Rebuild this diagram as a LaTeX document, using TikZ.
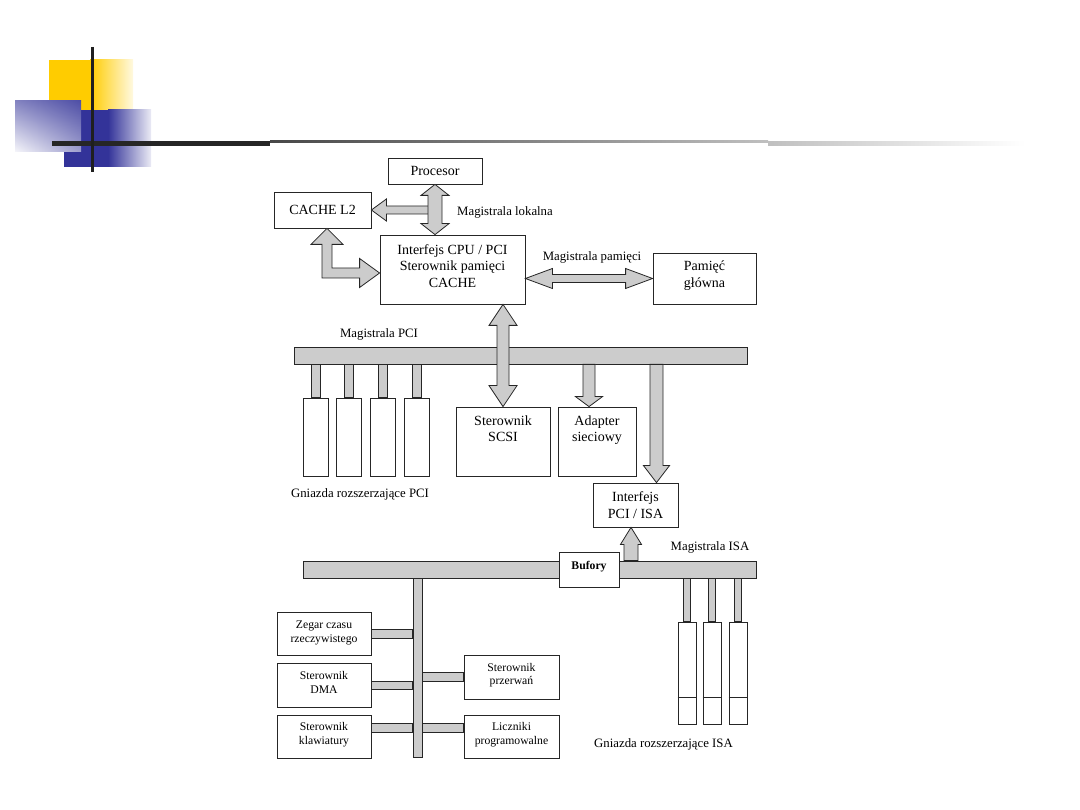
\documentclass[tikz,border=0pt]{standalone}
\usepackage{fontspec}
\setmainfont{Liberation Serif}
\usetikzlibrary{calc,shadings}
\definecolor{busgray}{gray}{0.8}
\definecolor{gold}{HTML}{FFCC00}
\definecolor{dblue}{HTML}{333399}
\definecolor{lblue}{HTML}{4F4FA6}
\tikzset{
  box/.style={draw=black!85, line width=0.8pt, fill=white, inner sep=1pt, align=center},
  bus/.style={draw=black!85, line width=0.8pt, fill=busgray, inner sep=0pt},
  fat/.style={draw=black!85, line width=0.8pt, fill=busgray, line join=miter},
  big/.style={font=\fontsize{14}{16.5}\selectfont},
  small/.style={font=\fontsize{11.7}{13.4}\selectfont},
  lab/.style={font=\fontsize{12.8}{15}\selectfont, inner sep=0pt},
}
\newcommand{\txtdepth}[1]{\rule[-#1pt]{0pt}{#1pt}}
% vertical double arrow: top tip, bottom tip, shaft half, head half, head length
\newcommand{\fatVV}[5]{\draw[fat] let \p1=(#1), \p2=(#2) in
 (\x1,\y1) -- (\x1+#4pt,\y1-#5pt) -- (\x1+#3pt,\y1-#5pt) -- (\x1+#3pt,\y2+#5pt) -- (\x1+#4pt,\y2+#5pt) -- (\x1,\y2) -- (\x1-#4pt,\y2+#5pt) -- (\x1-#3pt,\y2+#5pt) -- (\x1-#3pt,\y1-#5pt) -- (\x1-#4pt,\y1-#5pt) -- cycle;}
% vertical arrow down: start, tip
\newcommand{\fatVdown}[5]{\draw[fat] let \p1=(#1), \p2=(#2) in
 (\x1-#3pt,\y1) -- (\x1+#3pt,\y1) -- (\x1+#3pt,\y2+#5pt) -- (\x1+#4pt,\y2+#5pt) -- (\x1,\y2) -- (\x1-#4pt,\y2+#5pt) -- (\x1-#3pt,\y2+#5pt) -- cycle;}
% vertical arrow up: start (bottom), tip (top)
\newcommand{\fatVup}[5]{\draw[fat] let \p1=(#1), \p2=(#2) in
 (\x1-#3pt,\y1) -- (\x1-#3pt,\y2-#5pt) -- (\x1-#4pt,\y2-#5pt) -- (\x1,\y2) -- (\x1+#4pt,\y2-#5pt) -- (\x1+#3pt,\y2-#5pt) -- (\x1+#3pt,\y1) -- cycle;}
% horizontal double arrow: left tip, right tip
\newcommand{\fatHH}[5]{\draw[fat] let \p1=(#1), \p2=(#2) in
 (\x1,\y1) -- (\x1+#5pt,\y1+#4pt) -- (\x1+#5pt,\y1+#3pt) -- (\x2-#5pt,\y1+#3pt) -- (\x2-#5pt,\y1+#4pt) -- (\x2,\y1) -- (\x2-#5pt,\y1-#4pt) -- (\x2-#5pt,\y1-#3pt) -- (\x1+#5pt,\y1-#3pt) -- (\x1+#5pt,\y1-#4pt) -- cycle;}
% horizontal arrow to the left: start (right), tip (left)
\newcommand{\fatHleft}[5]{\draw[fat] let \p1=(#1), \p2=(#2) in
 (\x1,\y1+#3pt) -- (\x2+#5pt,\y1+#3pt) -- (\x2+#5pt,\y1+#4pt) -- (\x2,\y1) -- (\x2+#5pt,\y1-#4pt) -- (\x2+#5pt,\y1-#3pt) -- (\x1,\y1-#3pt) -- cycle;}
\begin{document}
\begin{tikzpicture}[x=1pt,y=-1pt]
\useasboundingbox (0,0) rectangle (1080,810);
% ---------- decoration ----------
\fill[gold] (49,60) rectangle (90,110);
\shade[left color=gold, right color=gold!12] (90,60) rectangle (133,110);
\fill[dblue] (64,110) rectangle (108,167);
\shade[left color=dblue, right color=dblue!10] (108,110) rectangle (151,167);
\shade[upper left=lblue!70, upper right=lblue, lower left=lblue!5, lower right=lblue!55] (15,101) rectangle (81,152);
\fill[black!85] (52,141) rectangle (270,146);
\shade[left color=black!72, right color=black!25] (270,141) rectangle (768,142.6);
\shade[left color=black!25, right color=white] (768,141.8) rectangle (1025,146);
\draw[line width=3.5pt, black!88] (92.5,47) -- (92.5,172);
% ---------- buses ----------
\node[bus, minimum width=453pt, minimum height=17pt] (pcibus) at (520.5,355.5) {};
\node[bus, minimum width=453pt, minimum height=17pt] (isabus) at (529.5,569.5) {};
\node[bus, minimum width=9pt, minimum height=179pt] (isav) at (417.5,667.5) {};
% ---------- boxes ----------
\node[box, big, minimum width=94pt, minimum height=26pt] (proc) at (435,171) {Procesor};
\node[box, big, minimum width=97pt, minimum height=36pt] (cache) at (322.5,210) {CACHE L2};
\node[box, big, minimum width=145pt, minimum height=69pt] (intf) at (452.5,269.5) {Interfejs CPU / PCI\\Sterownik pamięci\\CACHE\txtdepth{7}};
\node[box, big, minimum width=103pt, minimum height=51pt] (mem) at (704.5,278.5) {Pamięć\\główna\txtdepth{9}};
\node[box, minimum width=94pt, minimum height=69pt] (scsi) at (503,441.5) {};
\node[big, align=center] (scsit) at (503,428.5) {Sterownik\\SCSI};
\node[box, minimum width=78pt, minimum height=69pt] (adap) at (597,441.5) {};
\node[big, align=center] (adapt) at (597,430) {Adapter\\sieciowy};
\node[box, big, minimum width=85pt, minimum height=44pt] (pciisa) at (635.5,505) {Interfejs\\PCI / ISA};
\node[box, font=\bfseries\fontsize{11.7}{13}\selectfont, minimum width=60pt, minimum height=35pt] (buf) at (589,569.5) {Bufory\txtdepth{9}};
\node[box, small, minimum width=94pt, minimum height=43pt] (zegar) at (324,633.5) {Zegar czasu\\rzeczywistego\txtdepth{4}};
\node[box, small, minimum width=94pt, minimum height=44pt] (dma) at (324,685) {Sterownik\\DMA\txtdepth{5}};
\node[box, small, minimum width=94pt, minimum height=43pt] (klaw) at (324,736.5) {Sterownik\\klawiatury\txtdepth{6}};
\node[box, small, minimum width=95pt, minimum height=44pt] (przer) at (511.5,677) {Sterownik\\przerwań\txtdepth{6}};
\node[box, small, minimum width=95pt, minimum height=43pt] (licz) at (511.5,736.5) {Liczniki\\programowalne\txtdepth{6}};
\foreach \i/\x in {1/315.5,2/349,3/383,4/417}
  \node[box, minimum width=25pt, minimum height=78pt] (ps\i) at (\x,437) {};
\foreach \i/\x in {1/687,2/712,3/738}
  \node[box, minimum width=18pt, minimum height=102pt] (is\i) at (\x,673) {};
% ---------- slot connectors ----------
\foreach \i in {1,...,4}
  \draw[bus] ($(ps\i.north)+(-4.5,0)$) rectangle ($(ps\i.north |- pcibus.south)+(4.5,0)$);
\foreach \i in {1,2,3}{
  \draw[bus] ($(is\i.north)+(-3.5,0)$) rectangle ($(is\i.north |- isabus.south)+(3.5,0)$);
  \draw[line width=0.8pt, black!85] ($(is\i.south west)+(0,-27)$) -- ($(is\i.south east)+(0,-27)$);
}
% ---------- ISA local stubs ----------
\draw[bus] ($(zegar.east)+(0,-4.5)$) rectangle ($(zegar.east -| isav.west)+(0,4.5)$);
\draw[bus] ($(dma.east)+(0,-4)$) rectangle ($(dma.east -| isav.west)+(0,4)$);
\draw[bus] ($(klaw.east)+(0,-13.5)$) rectangle ($(klaw.east -| isav.west)+(0,-4.5)$);
\draw[bus] ($(przer.west)+(0,-4.5)$) rectangle ($(przer.west -| isav.east)+(0,4.5)$);
\draw[bus] ($(licz.west)+(0,-13.5)$) rectangle ($(licz.west -| isav.east)+(0,-4.5)$);
% ---------- coordinates for fat arrows ----------
\coordinate (a1b) at (proc.south |- intf.north);
\coordinate (a2s) at (proc.south |- cache.east);
\coordinate (elA) at ($(cache.south)+(4.5,0)$);
\coordinate (elB) at ($(intf.west)+(0,3.5)$);
\coordinate (mL) at (intf.east |- mem.west);
\coordinate (sT) at (scsi.north |- intf.south);
\coordinate (aT) at ($(adap.north)+(-8,0)$);
\coordinate (aS) at (aT |- pcibus.south);
\coordinate (pT) at ($(pciisa.north)+(21,0)$);
\coordinate (pS) at (pT |- pcibus.south);
\coordinate (bT) at ($(pciisa.south)+(-4.5,0)$);
\coordinate (bS) at (bT |- isabus.north);
% ---------- fat arrows ----------
\fatHleft{a2s}{cache.east}{4}{11}{15}
\fatVV{proc.south}{a1b}{7}{14}{11}
\draw[fat] let \p1=(elA), \p2=(elB) in
  (\x1,\y1) -- (\x1+16pt,\y1-16pt) -- (\x1+5pt,\y1-16pt) -- (\x1+5pt,\y2+5pt) -- (\x2-20pt,\y2+5pt) -- (\x2-20pt,\y2+14.5pt) -- (\x2,\y2) -- (\x2-20pt,\y2-14.5pt) -- (\x2-20pt,\y2-5pt) -- (\x1-5pt,\y2-5pt) -- (\x1-5pt,\y1-16pt) -- (\x1-16pt,\y1-16pt) -- cycle;
\fatHH{mL}{mem.west}{4}{10}{27}
\fatVV{sT}{scsi.north}{6}{14}{21}
\fatVdown{aS}{aT}{6}{13.5}{10}
\fatVdown{pS}{pT}{6.5}{13}{17}
\fatVup{bS}{bT}{7}{10.5}{17}
% ---------- labels ----------
\node[lab] (lml) at (505,212) {Magistrala lokalna};
\node[lab] (lmp) at (592,257) {Magistrala pamięci};
\node[lab] (lpci) at (379,334) {Magistrala PCI};
\node[lab] (lgp) at (360,494) {Gniazda rozszerzające PCI};
\node[lab] (lisa) at (710,547) {Magistrala ISA};
\node[lab] (lgi) at (663.5,744) {Gniazda rozszerzające ISA};
\end{tikzpicture}
\end{document}
